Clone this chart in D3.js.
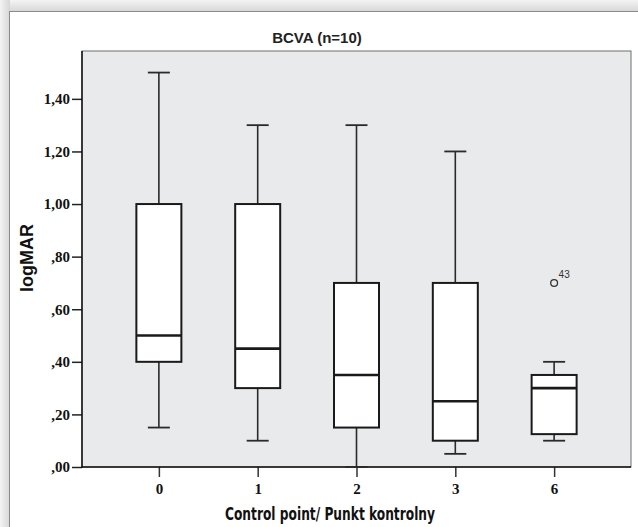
<!DOCTYPE html>
<html>
<head>
<meta charset="utf-8">
<script src="https://cdn.jsdelivr.net/npm/d3@7/dist/d3.min.js"></script>
<style>
  body { margin: 0; background: #fff; }
  svg { display: block; }
</style>
</head>
<body>
<div class="vis-boxplot"></div>
<script>
// values
const categories = ["0", "1", "2", "3", "6"];
const whiskerLow = [0.15, 0.10, 0.00, 0.05, 0.10];
const q1 = [0.40, 0.30, 0.15, 0.10, 0.125];
const median = [0.50, 0.45, 0.35, 0.25, 0.30];
const q3 = [1.00, 1.00, 0.70, 0.70, 0.35];
const whiskerHigh = [1.50, 1.30, 1.30, 1.20, 0.40];
const outlierCats = ["6"];
const outlierValues = [0.70];
const outlierLabels = ["43"];
const yTicks = [0, 0.2, 0.4, 0.6, 0.8, 1.0, 1.2, 1.4];

const W = 638, H = 527;
const plot = {left: 82, top: 51, right: 631, bottom: 467};
const boxW = 45, capW = 22;

const svg = d3.select('.vis-boxplot')
  .append('svg')
  .attr('width', W)
  .attr('height', H);

// page shadow + white panel
const defs = svg.append("defs");
const gTop = defs.append("linearGradient").attr("id", "shTop")
  .attr("x1", 0).attr("y1", 0).attr("x2", 0).attr("y2", 1);
gTop.append("stop").attr("offset", 0).attr("stop-color", "#f4f4f4");
gTop.append("stop").attr("offset", 1).attr("stop-color", "#d6d6d6");
const gLeft = defs.append("linearGradient").attr("id", "shLeft")
  .attr("x1", 0).attr("y1", 0).attr("x2", 1).attr("y2", 0);
gLeft.append("stop").attr("offset", 0).attr("stop-color", "#f4f4f4");
gLeft.append("stop").attr("offset", 1).attr("stop-color", "#d6d6d6");

svg.append("rect").attr("x", 0).attr("y", 0).attr("width", W).attr("height", 12)
  .attr("fill", "url(#shTop)");
svg.append("rect").attr("x", 0).attr("y", 0).attr("width", 10).attr("height", H)
  .attr("fill", "url(#shLeft)");
svg.append("rect")
  .attr("x", 9.5).attr("y", 11.5)
  .attr("width", W).attr("height", H)
  .attr("fill", "#fff")
  .attr("stroke", "#8a8a8a")
  .attr("stroke-width", 1);

// scales
const xScale = d3.scalePoint()
  .domain(categories)
  .range([plot.left, plot.right])
  .padding(0.778);
const yScale = d3.scaleLinear()
  .domain([0, 1.582])
  .range([plot.bottom, plot.top]);

// plot background
svg.append("rect")
  .attr("x", plot.left).attr("y", plot.top)
  .attr("width", plot.right - plot.left)
  .attr("height", plot.bottom - plot.top)
  .attr("fill", "#e9eaec")
  .attr("stroke", "#6e6e6e")
  .attr("stroke-width", 1);

// Y axis, labels like ",20" and "1,40"
const fmt = v => {
  let s = v.toFixed(2).replace(".", ",");
  return s.startsWith("0,") ? s.slice(1) : s;
};
const yAxis = svg.append("g")
  .attr("transform", "translate(" + plot.left + ",0)")
  .call(d3.axisLeft(yScale).tickValues(yTicks).tickFormat(fmt).tickSize(10).tickPadding(2));
yAxis.select(".domain").remove();
yAxis.selectAll(".tick line").attr("stroke", "#222").attr("stroke-width", 1.5);
yAxis.selectAll(".tick text")
  .attr("fill", "#111")
  .style("font", "bold 15px 'Liberation Serif', 'DejaVu Serif', serif");

// X axis
const xAxis = svg.append("g")
  .attr("transform", "translate(0," + plot.bottom + ")")
  .call(d3.axisBottom(xScale).tickSize(10).tickPadding(6));
xAxis.select(".domain").remove();
xAxis.selectAll(".tick line").attr("stroke", "#333").attr("stroke-width", 1.5);
xAxis.selectAll(".tick text")
  .attr("fill", "#111")
  .style("font", "bold 15px 'Liberation Serif', 'DejaVu Serif', serif");

// axis lines
svg.append("line")
  .attr("x1", plot.left).attr("x2", plot.left)
  .attr("y1", plot.top).attr("y2", plot.bottom + 0.75)
  .attr("stroke", "#111").attr("stroke-width", 1.5);
svg.append("line")
  .attr("x1", plot.left - 0.75).attr("x2", plot.right)
  .attr("y1", plot.bottom).attr("y2", plot.bottom)
  .attr("stroke", "#111").attr("stroke-width", 1.5);

// boxes
const rows = categories.map((c, i) => ({
  cat: c, lo: whiskerLow[i], q1: q1[i], med: median[i], q3: q3[i], hi: whiskerHigh[i]
}));

const g = svg.append("g");
const box = g.selectAll(".box").data(rows).enter().append("g").attr("class", "box");

box.append("line")
  .attr("x1", d => xScale(d.cat)).attr("x2", d => xScale(d.cat))
  .attr("y1", d => yScale(d.hi)).attr("y2", d => yScale(d.q3))
  .attr("stroke", "#2a2a2a").attr("stroke-width", 1.6);
box.append("line")
  .attr("x1", d => xScale(d.cat)).attr("x2", d => xScale(d.cat))
  .attr("y1", d => yScale(d.q1)).attr("y2", d => yScale(d.lo))
  .attr("stroke", "#2a2a2a").attr("stroke-width", 1.6);
box.append("line")
  .attr("x1", d => xScale(d.cat) - capW / 2).attr("x2", d => xScale(d.cat) + capW / 2)
  .attr("y1", d => yScale(d.hi)).attr("y2", d => yScale(d.hi))
  .attr("stroke", "#2a2a2a").attr("stroke-width", 1.8);
box.append("line")
  .attr("x1", d => xScale(d.cat) - capW / 2).attr("x2", d => xScale(d.cat) + capW / 2)
  .attr("y1", d => yScale(d.lo)).attr("y2", d => yScale(d.lo))
  .attr("stroke", "#2a2a2a").attr("stroke-width", 1.8);
box.append("rect")
  .attr("x", d => xScale(d.cat) - boxW / 2)
  .attr("y", d => yScale(d.q3))
  .attr("width", boxW)
  .attr("height", d => yScale(d.q1) - yScale(d.q3))
  .attr("fill", "#fff")
  .attr("stroke", "#1a1a1a")
  .attr("stroke-width", 2);
box.append("line")
  .attr("x1", d => xScale(d.cat) - boxW / 2).attr("x2", d => xScale(d.cat) + boxW / 2)
  .attr("y1", d => yScale(d.med)).attr("y2", d => yScale(d.med))
  .attr("stroke", "#1a1a1a").attr("stroke-width", 2.6);

// outliers
const outl = outlierCats.map((c, i) => ({cat: c, v: outlierValues[i], label: outlierLabels[i]}));
g.selectAll(".outlier").data(outl).enter().append("circle")
  .attr("class", "outlier")
  .attr("cx", d => xScale(d.cat)).attr("cy", d => yScale(d.v))
  .attr("r", 3.4)
  .attr("fill", "none").attr("stroke", "#333").attr("stroke-width", 1.3);
g.selectAll(".outlier-label").data(outl).enter().append("text")
  .attr("x", d => xScale(d.cat) + 4.5).attr("y", d => yScale(d.v) - 5)
  .attr("fill", "#333")
  .style("font", "10px 'Liberation Sans', Arial, sans-serif")
  .text(d => d.label);

// titles
svg.append("text")
  .attr("x", 317).attr("y", 43)
  .attr("text-anchor", "middle")
  .attr("fill", "#222")
  .style("font", "bold 15px 'Liberation Sans', Arial, sans-serif")
  .text("BCVA (n=10)");

svg.append("text")
  .attr("transform", "translate(33,258) rotate(-90)")
  .attr("text-anchor", "middle")
  .attr("fill", "#111")
  .style("font", "bold 18px 'Liberation Sans', Arial, sans-serif")
  .text("logMAR");

svg.append("text")
  .attr("x", 225).attr("y", 520)
  .attr("textLength", 210)
  .attr("lengthAdjust", "spacingAndGlyphs")
  .attr("fill", "#111")
  .style("font", "bold 17px 'Liberation Sans Narrow', 'DejaVu Sans Condensed', Arial, sans-serif")
  .text("Control point/ Punkt kontrolny");
</script>
</body>
</html>
